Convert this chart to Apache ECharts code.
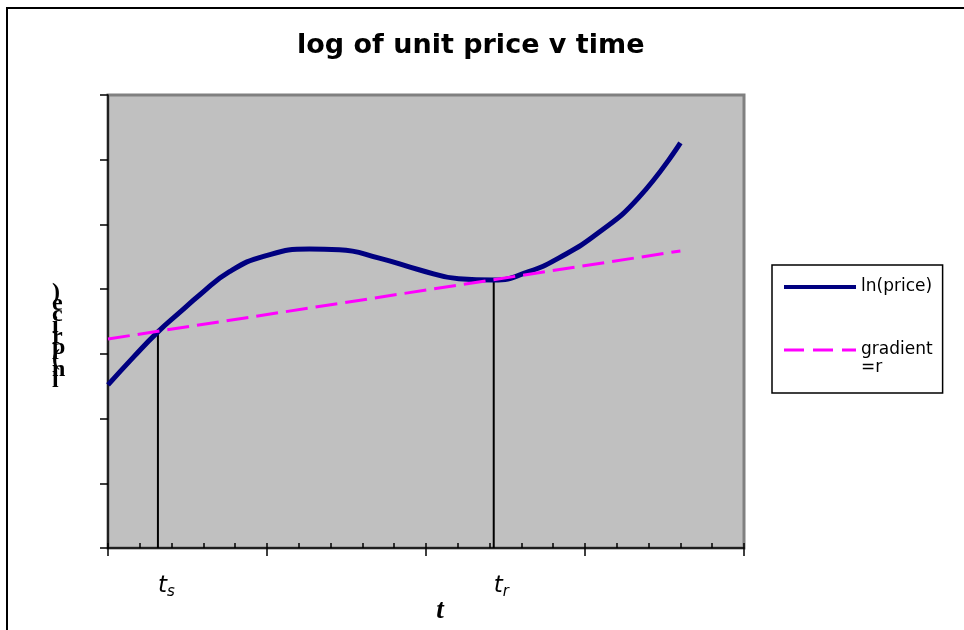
<!DOCTYPE html>
<html>
<head>
<meta charset="utf-8">
<script src="https://cdn.jsdelivr.net/npm/echarts@6/dist/echarts.min.js"></script>
<style>
  html, body { margin: 0; padding: 0; background: #fff; }
  #chart { width: 964px; height: 630px; }
</style>
</head>
<body>
<div id="chart"></div>
<script>
// values (x in minor-tick units, y in y-tick units)
var timeVals = [0, 0.8, 1.57, 2.3, 2.88, 3.82, 4.92, 6.33, 7.27, 8.53, 9.78, 11.03, 12.13, 13.23, 14.17, 15.42, 16.68, 18.0];
var lnPrice = [2.52, 2.95, 3.34, 3.66, 3.91, 4.27, 4.51, 4.62, 4.61, 4.48, 4.30, 4.16, 4.14, 4.27, 4.48, 4.87, 5.41, 6.26];
var gradX = [0, 18];
var gradY = [3.23, 4.59];
var dropX = [1.57, 12.13];
var dropTop = [3.36, 4.15];
var dropLabels = ['{t|t}{s|s}', '{t|t}{s|r}'];

function pairs(xs, ys) {
    var out = [];
    for (var i = 0; i < xs.length; i++) {
        out.push([xs[i], ys[i]]);
    }
    return out;
}

var chart = echarts.init(document.getElementById('chart'));

var series = [
    {
        name: 'ln(price)',
        type: 'line',
        data: pairs(timeVals, lnPrice),
        smooth: true,
        symbol: 'none',
        lineStyle: { color: '#000080', width: 5 },
        itemStyle: { color: '#000080' },
        z: 3
    },
    {
        name: 'gradient =r',
        type: 'line',
        data: pairs(gradX, gradY),
        symbol: 'none',
        lineStyle: { color: '#ff00ff', width: 3, type: [22, 8] },
        itemStyle: { color: '#ff00ff' },
        z: 4
    }
];

// drop lines from the crossings down to the time axis
dropX.forEach(function (x, i) {
    series.push({
        name: 'drop' + i,
        type: 'line',
        data: [[x, 0], [x, dropTop[i]]],
        symbol: 'none',
        silent: true,
        lineStyle: { color: '#000', width: 2 },
        z: 2
    });
});

var option = {
    animation: false,
    backgroundColor: '#fff',
    title: {
        text: 'log of unit price v time',
        left: 297,
        top: 32,
        padding: 0,
        textStyle: {
            fontFamily: 'DejaVu Sans',
            fontWeight: 'bold',
            fontSize: 27,
            color: '#000'
        }
    },
    legend: {
        data: [
            { name: 'ln(price)', lineStyle: { width: 4 } },
            { name: 'gradient =r', lineStyle: { width: 3, type: [20, 9] } }
        ],
        orient: 'vertical',
        left: 772,
        top: 265,
        padding: [13, 10, 16, 10],
        itemGap: 27,
        itemWidth: 72,
        itemHeight: 14,
        itemStyle: { opacity: 0 },
        borderColor: '#000',
        borderWidth: 1.5,
        backgroundColor: '#fff',
        formatter: function (name) {
            // keep the first text line level with the dashed key, as in the original
            if (name === 'gradient =r') {
                return ' \ngradient\n=r';
            }
            return name;
        },
        textStyle: {
            fontFamily: 'DejaVu Sans',
            fontSize: 17,
            lineHeight: 18,
            color: '#000'
        }
    },
    grid: {
        left: 108,
        right: 220,
        top: 95,
        bottom: 82,
        outerBoundsMode: 'none',
        show: true,
        backgroundColor: '#c0c0c0',
        borderColor: '#808080',
        borderWidth: 3
    },
    xAxis: [
        {
            type: 'value',
            min: 0,
            max: 20,
            interval: 5,
            name: 't',
            nameLocation: 'middle',
            nameGap: 50,
            nameMoveOverlap: false,
            nameTextStyle: {
                fontFamily: 'Liberation Serif',
                fontStyle: 'italic',
                fontWeight: 'bold',
                fontSize: 27,
                color: '#000',
                padding: [0, 0, 0, 28]
            },
            axisLine: { onZero: false, lineStyle: { color: '#000', width: 1.5 } },
            axisTick: { show: true, inside: false, length: 8, lineStyle: { color: '#000', width: 1.5 } },
            axisLabel: {
                show: true,
                customValues: dropX,
                margin: 25,
                align: 'left',
                formatter: function (v) {
                    return dropLabels[dropX.indexOf(v)];
                },
                rich: {
                    t: { fontFamily: 'DejaVu Sans', fontStyle: 'italic', fontSize: 23, color: '#000' },
                    s: { fontFamily: 'DejaVu Sans', fontStyle: 'italic', fontSize: 15, color: '#000', padding: [12, 0, 0, 0] }
                }
            },
            splitLine: { show: false }
        },
        {
            type: 'value',
            min: 0,
            max: 20,
            interval: 1,
            position: 'bottom',
            axisLine: { show: false },
            axisTick: { show: true, inside: true, length: 5, lineStyle: { color: '#000', width: 1.5 } },
            axisLabel: { show: false },
            splitLine: { show: false }
        }
    ],
    yAxis: {
        type: 'value',
        min: 0,
        max: 7,
        interval: 1,
        axisLine: { show: true, lineStyle: { color: '#000', width: 1.5 } },
        axisTick: { show: true, inside: false, length: 8, lineStyle: { color: '#000', width: 1.5 } },
        axisLabel: { show: false },
        splitLine: { show: false }
    },
    graphic: [
        {
            // stacked y-axis title, as in the original
            type: 'text',
            left: 52,
            top: 281,
            style: {
                text: ')\ne\nc\ni\nr\np\n(\nn\nl',
                fontFamily: 'Liberation Serif',
                fontWeight: 'bold',
                fontSize: 24,
                lineHeight: 11,
                align: 'center',
                fill: '#000'
            }
        },
        {
            type: 'rect',
            shape: { x: 7, y: 8, width: 1200, height: 1000 },
            style: { fill: 'none', stroke: '#000', lineWidth: 2 },
            silent: true,
            z: 100
        }
    ],
    series: series
};

chart.setOption(option);
</script>
</body>
</html>
